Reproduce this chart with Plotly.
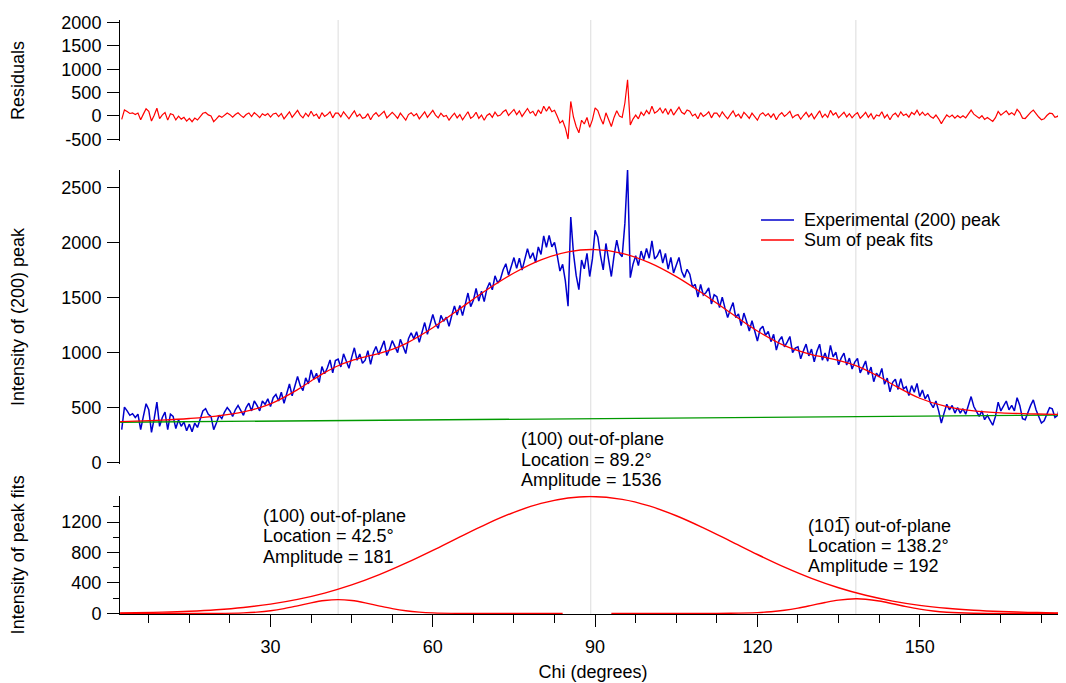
import numpy as np
import plotly.graph_objects as go
from plotly.subplots import make_subplots

# ---------------- data ----------------
# experimental scan: chi sampled every 0.5 degree from 2.5 to 177.0
CHI_START, CHI_STEP, N_PTS = 2.5, 0.5, 350
chi = np.round(CHI_START + CHI_STEP * np.arange(N_PTS), 2)

experimental = [
    300, 505, 470, 430, 445, 410, 440, 300, 420, 535,
    480, 275, 400, 550, 330, 410, 460, 300, 440, 420,
    310, 390, 330, 370, 290, 350, 280, 360, 320, 390,
    470, 490, 440, 420, 300, 360, 430, 400, 460, 500,
    470, 420, 480, 520, 470, 430, 500, 540, 470, 560,
    520, 470, 560, 530, 580, 510, 590, 620, 560, 640,
    539, 622, 714, 607, 690, 783, 699, 655, 770, 716,
    842, 757, 812, 727, 872, 807, 860, 932, 815, 927,
    940, 869, 988, 918, 857, 956, 1043, 930, 986, 903,
    930, 1016, 892, 999, 1055, 981, 1038, 1106, 973, 1031,
    1108, 1059, 999, 1120, 1050, 991, 1125, 1180, 1124, 1189,
    1093, 1178, 1272, 1166, 1251, 1345, 1262, 1220, 1337, 1284,
    1321, 1239, 1336, 1423, 1341, 1428, 1335, 1452, 1540, 1417,
    1474, 1581, 1468, 1556, 1463, 1580, 1635, 1570, 1696, 1631,
    1666, 1751, 1806, 1702, 1777, 1862, 1764, 1856, 1748, 1850,
    1942, 1853, 1905, 1817, 1959, 1891, 2058, 1956, 2063, 1960,
    2000, 1880, 1740, 1800, 1650, 1420, 2230, 1900, 1700, 1570,
    1840, 1760, 1900, 1690, 1850, 2110, 2050, 1880, 1750, 1990,
    1850, 1690, 1880, 2020, 1900, 1870, 2170, 2660, 1680, 1800,
    1878, 1790, 1921, 1843, 1944, 1856, 2013, 1850, 1878, 1935,
    1812, 1900, 1757, 1864, 1722, 1799, 1863, 1738, 1682, 1756,
    1711, 1595, 1619, 1504, 1618, 1522, 1545, 1588, 1441, 1524,
    1507, 1409, 1502, 1405, 1318, 1391, 1454, 1318, 1351, 1245,
    1358, 1281, 1195, 1288, 1192, 1105, 1212, 1238, 1155, 1192,
    1099, 1165, 1022, 1109, 1145, 1052, 1094, 1146, 998, 1040,
    1052, 943, 1015, 1077, 969, 1031, 916, 1011, 1076, 931,
    996, 921, 1065, 960, 1004, 889, 951, 994, 886, 949,
    851, 914, 946, 816, 865, 923, 800, 868, 735, 813,
    780, 856, 712, 768, 644, 730, 758, 665, 763, 670,
    690, 610, 700, 640, 720, 600, 660, 580, 620, 540,
    500, 560, 470, 360, 450, 530, 480, 520, 450, 500,
    450, 490, 440, 530, 600, 510, 470, 420, 470, 390,
    430, 380, 340, 420, 550, 470, 520, 560, 480, 520,
    470, 590, 520, 400, 390, 460, 520, 570, 480, 420,
    360, 380, 450, 500, 490, 410, 430, 530, 470, 520,
]

residuals = [
    -74, 130, 94, 54, 68, 33, 62, -79, 40, 154,
    98, -108, 17, 166, -55, 24, 72, -89, 49, 28,
    -84, -5, -67, -28, -110, -51, -123, -45, -87, -20,
    58, 76, 24, 1, -121, -63, 3, -30, 26, 62,
    28, -26, 31, 67, 13, -31, 32, 64, -13, 70,
    23, -35, 48, 11, 53, -24, 43, 60, -13, 54,
    -60, 10, 90, -30, 40, 120, 20, -40, 60, -10,
    100, 0, 40, -60, 70, -10, 30, 90, -40, 60,
    60, -20, 90, 10, -60, 30, 110, -10, 40, -50,
    -30, 50, -80, 20, 70, -10, 40, 100, -40, 10,
    80, 20, -50, 60, -20, -90, 30, 70, 0, 50,
    -60, 10, 90, -30, 40, 120, 20, -40, 60, -10,
    10, -90, -10, 60, -40, 30, -80, 20, 90, -50,
    -10, 80, -50, 20, -90, 10, 50, -30, 80, 0,
    20, 90, 130, 10, 70, 140, 30, 110, -10, 80,
    160, 60, 100, 0, 130, 50, 210, 100, 200, 90,
    123, -5, -152, -99, -257, -494, 312, -22, -226, -360,
    -91, -172, -33, -244, -85, 175, 118, -48, -175, 69,
    -68, -225, -31, 112, -4, -31, 278, 776, -195, -67,
    20, -60, 80, 10, 120, 40, 210, 60, 100, 170,
    60, 160, 30, 150, 20, 110, 190, 80, 40, 130,
    100, 0, 40, -60, 70, -10, 30, 90, -40, 60,
    60, -20, 90, 10, -60, 30, 110, -10, 40, -50,
    80, 20, -50, 60, -20, -90, 30, 70, 0, 50,
    -30, 50, -80, 20, 70, -10, 40, 100, -40, 10,
    30, -70, 10, 80, -20, 50, -60, 40, 110, -30,
    40, -30, 120, 20, 70, -40, 30, 80, -20, 50,
    -40, 30, 70, -50, 10, 80, -30, 50, -70, 20,
    0, 90, -40, 30, -80, 20, 60, -20, 90, 10,
    42, -25, 77, 30, 122, 15, 83, 10, 58, -14,
    -47, 21, -61, -164, -66, 22, -24, 20, -47, 7,
    -39, 5, -41, 52, 126, 40, 2, -46, 5, -73,
    -31, -79, -117, -36, 96, 18, 69, 109, 30, 71,
    22, 143, 74, -45, -54, 16, 77, 127, 38, -22,
    -81, -61, 10, 60, 51, -29, -9, 91, 31, 81,
]

# linear background (green)
base_chi = [2.2, 177.0]
baseline = [367, 433]

# sum of peak fits (red, middle panel)
fit_chi = [2.2, 5, 10, 15, 20, 25, 30, 35, 37.5, 40, 42.5, 45, 47.5, 50, 52.5, 55,
           60, 65, 70, 75, 80, 85, 90, 95, 100, 105, 110, 115, 120, 125, 130,
           132.5, 135, 138.2, 140, 142.5, 145, 150, 155, 160, 165, 170, 175, 177]
fit_sum = [373.5, 377, 386.5, 401, 423, 461, 534, 663, 742, 817, 880, 926, 960, 991, 1028.5, 1081,
           1225, 1398, 1570, 1722, 1841, 1914, 1935, 1901, 1816, 1689, 1532, 1361, 1195, 1062, 981,
           956, 929, 881, 843, 780, 710, 585, 508, 470, 452, 444, 439.5, 439]

# individual peak fits (bottom panel)
peak1_chi = [2.2, 10, 15, 20, 25, 27.5, 30, 32.5, 35, 37.5, 40, 42.5, 45, 47.5, 50,
             52.5, 55, 57.5, 60, 65, 70, 75, 84]
peak1_val = [0, 0, 0.1, 0.8, 7, 16.6, 34.4, 62.5, 99.6, 139, 169, 181, 169, 139, 99.6,
             62.5, 34.4, 16.6, 7, 0.8, 0.1, 0, 0]

peak2_chi = [2.2, 5, 10, 15, 20, 25, 30, 35, 40, 45, 50, 55, 60, 65, 70, 75, 80, 85, 89.2,
             95, 100, 105, 110, 115, 120, 125, 130, 135, 140, 145, 150, 155, 160, 165, 170, 175, 177]
peak2_val = [6.5, 9.2, 16.5, 28.7, 48.3, 78.1, 122, 184, 267, 374, 506, 660, 829, 1006, 1177, 1328,
             1445, 1516, 1536, 1499, 1412, 1283, 1124, 950, 774, 608, 461, 337, 238, 162, 106, 67,
             41, 24, 13.7, 7.5, 5.8]

peak3_chi = [93, 100, 105, 110, 115, 120, 122.5, 125, 127.5, 130, 132.5, 135, 138.2, 140, 142.5,
             145, 147.5, 150, 152.5, 155, 160, 165, 170, 177]
peak3_val = [0, 0, 0, 0.2, 1.6, 10, 21.4, 40.7, 69.3, 105.5, 143.8, 175, 192, 186.5, 163,
             127, 88.9, 55.6, 31.1, 15.6, 2.8, 0.3, 0, 0]

peak_locations = [42.5, 89.2, 138.2]

x_tick_vals = [30, 60, 90, 120, 150]
resid_tick_vals = [-500, 0, 500, 1000, 1500, 2000]
resid_tick_text = ["-500", "0", "500", "1000", "1500", "2000"]

legend_names = ["Experimental (200) peak", "Sum of peak fits"]

# annotation texts (one entry per line)
ann_center = ["(100) out-of-plane", "Location = 89.2°", "Amplitude = 1536"]
ann_left = ["(100) out-of-plane", "Location = 42.5°", "Amplitude = 181"]
ann_right = ["(101\u0305) out-of-plane", "Location = 138.2°", "Amplitude = 192"]

# ---------------- figure ----------------
FONT = "Liberation Sans, Arial, sans-serif"
FS = 18
RED = "#ff0000"
BLUE = "#0000cc"
GREEN = "#009900"

fig = make_subplots(rows=3, cols=1, shared_xaxes=True, vertical_spacing=0.02)

fig.add_trace(go.Scatter(x=chi, y=residuals, mode="lines", line=dict(color=RED, width=1.2),
                         showlegend=False, hoverinfo="skip"), row=1, col=1)

fig.add_trace(go.Scatter(x=chi, y=experimental, mode="lines", name=legend_names[0],
                         line=dict(color=BLUE, width=1.5), showlegend=False), row=2, col=1)
fig.add_trace(go.Scatter(x=base_chi, y=baseline, mode="lines", line=dict(color=GREEN, width=1.3),
                         showlegend=False), row=2, col=1)
fig.add_trace(go.Scatter(x=fit_chi, y=fit_sum, mode="lines", name=legend_names[1],
                         line=dict(color=RED, width=1.3, shape="spline"), showlegend=False), row=2, col=1)

for px_, py_ in [(peak1_chi, peak1_val), (peak2_chi, peak2_val), (peak3_chi, peak3_val)]:
    fig.add_trace(go.Scatter(x=px_, y=py_, mode="lines", line=dict(color=RED, width=1.4, shape="spline"),
                             showlegend=False), row=3, col=1)

# vertical light grid lines at the peak locations, across all panels
for loc in peak_locations:
    fig.add_shape(type="line", xref="x3", yref="paper", x0=loc, x1=loc, y0=0, y1=1,
                  line=dict(color="#dcdcdc", width=1), layer="below")

# compact legend (rows 20 px apart, as in the reference)
for name, col, yp in [(legend_names[0], BLUE, 0.6633), (legend_names[1], RED, 0.6296)]:
    fig.add_shape(type="line", xref="paper", yref="paper", x0=0.6776, x1=0.7125, y0=yp, y1=yp,
                  line=dict(color=col, width=1.5))
    fig.add_annotation(xref="paper", yref="paper", x=0.7210, y=yp, xanchor="left", yanchor="middle",
                       showarrow=False, text=name, font=dict(size=FS, color="black", family=FONT))

ax_common = dict(showgrid=False, zeroline=False, showline=True, linecolor="black", linewidth=1,
                 ticks="outside", tickcolor="black", ticklen=12, tickwidth=1,
                 tickfont=dict(size=FS, color="black", family=FONT),
                 title_font=dict(size=FS, color="black", family=FONT))

X_RANGE = [2.18, 177.04]
fig.update_xaxes(range=X_RANGE, showline=False, ticks="", showticklabels=False,
                 showgrid=False, zeroline=False, row=1, col=1)
fig.update_xaxes(range=X_RANGE, showline=False, ticks="", showticklabels=False,
                 showgrid=False, zeroline=False, row=2, col=1)
fig.update_xaxes(range=X_RANGE, **ax_common, tickvals=x_tick_vals, ticklabelstandoff=4,
                 minor=dict(tick0=0, dtick=7.5, ticks="outside", ticklen=8, tickcolor="black", tickwidth=1),
                 title=dict(text="Chi (degrees)", standoff=9), layer="below traces",
                 row=3, col=1)

fig.update_yaxes(domain=[0.7971, 0.9992], range=[-526, 2047], tickvals=resid_tick_vals,
                 ticktext=resid_tick_text, **ax_common,
                 ticklabelstandoff=2, title=dict(text="Residuals", standoff=33), row=1, col=1)
fig.update_yaxes(domain=[0.2525, 0.7475], range=[-12, 2657], tick0=0, dtick=500, **ax_common,
                 ticklabelstandoff=2, title=dict(text="Intensity of (200) peak", standoff=33), row=2, col=1)
fig.update_yaxes(domain=[0.0, 0.1992], range=[-8, 1547], tick0=0, dtick=400, **ax_common,
                 ticklabelstandoff=2,
                 minor=dict(tick0=0, dtick=200, ticks="outside", ticklen=6, tickcolor="black", tickwidth=1),
                 title=dict(text="Intensity of peak fits", standoff=33), row=3, col=1)

ann_font = dict(size=FS, color="black", family=FONT)
for lines, xp, ys in [(ann_center, 0.4221, [0.2941, 0.2599, 0.2256]),
                      (ann_left, 0.1487, [0.1650, 0.1305, 0.0960]),
                      (ann_right, 0.7252, [0.1481, 0.1145, 0.0800])]:
    for txt, yp in zip(lines, ys):
        fig.add_annotation(xref="paper", yref="paper", x=xp, y=yp, xanchor="left", yanchor="middle",
                           align="left", showarrow=False, font=ann_font, text=txt)

# the page body adds an 8px offset, so the figure is 8px smaller and margins shifted
fig.update_layout(
    width=1058, height=675,
    margin=dict(l=112, r=0, t=12, b=69),
    paper_bgcolor="white", plot_bgcolor="white",
    font=dict(family=FONT, size=FS, color="black"),
    showlegend=False,
)

fig.write_html("out.html")
